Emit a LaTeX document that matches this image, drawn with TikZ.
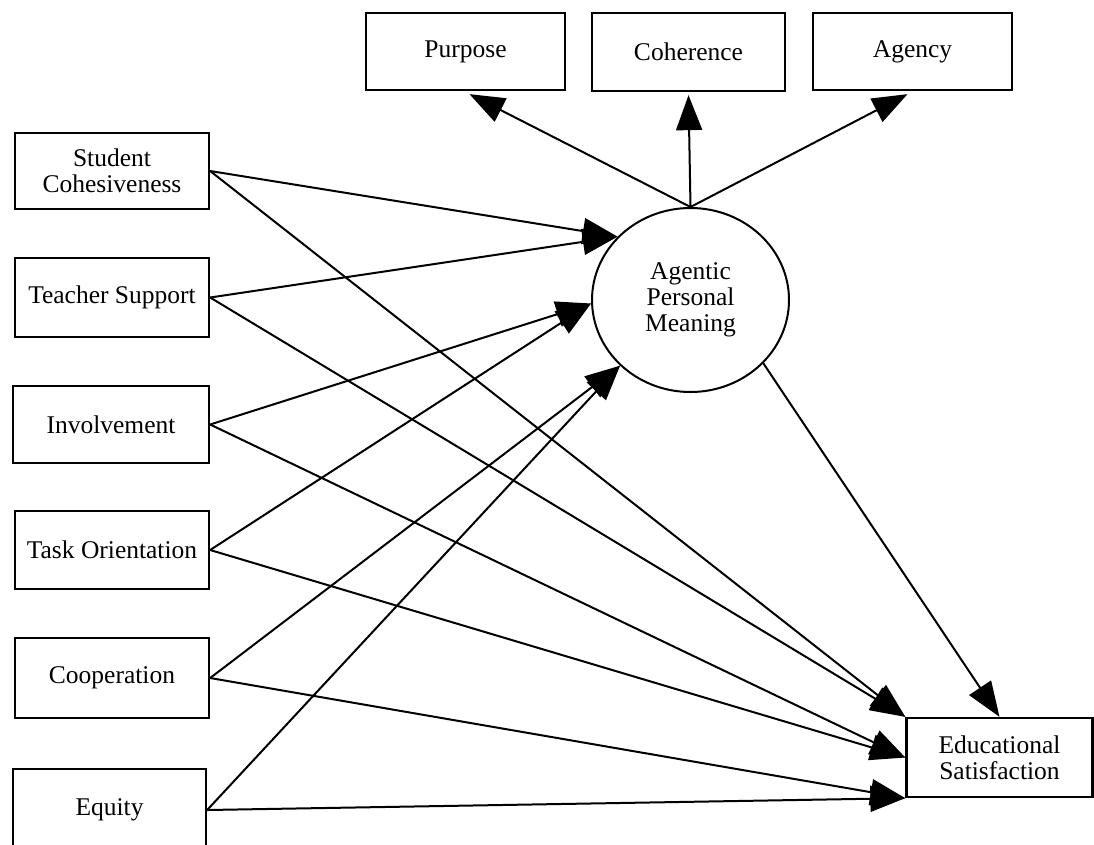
\documentclass[tikz,border=0pt]{standalone}
\usepackage{fontspec}
\setmainfont{Liberation Serif}
\usetikzlibrary{shapes.geometric,arrows.meta}
\begin{document}
\begin{tikzpicture}[x=1pt,y=-1pt,
  box/.style={draw, line width=2.3pt, rectangle, inner sep=0pt, align=center,
    font=\fontsize{25.5}{26}\selectfont},
  lat/.style={draw, line width=2pt, ellipse, inner sep=0pt, minimum width=197pt,
    minimum height=184pt, align=center, font=\fontsize{25.5}{26}\selectfont},
  conn/.style={draw, line width=2pt, -{Triangle[length=35pt,width=26pt]}}
]
\useasboundingbox (0,0) rectangle (1094,844);
% top indicators
\node[box, minimum width=199pt, minimum height=77pt] (pur) at (465.5,51.5) {Purpose};
\node[box, minimum width=193pt, minimum height=78pt] (coh) at (688.5,52) {Coherence};
\node[box, minimum width=199pt, minimum height=77pt] (agy) at (912.5,51.5) {Agency};
% left predictors
\node[box, minimum width=194pt, minimum height=76pt] (sc) at (112,171) {Student\\Cohesiveness};
\node[box, minimum width=194pt, minimum height=79pt] (ts) at (112,297.5) {Teacher Support};
\node[box, minimum width=196pt, minimum height=77pt] (inv) at (111,424.5) {Involvement};
\node[box, minimum width=194pt, minimum height=78pt] (task) at (112,550) {Task Orientation};
\node[box, minimum width=194pt, minimum height=80pt] (coop) at (112,678) {Cooperation};
\node[box, minimum width=193pt, minimum height=82pt] (eq) at (109.5,810) {Equity};
% latent
\node[lat] (apm) at (690.5,300) {Agentic\\Personal\\Meaning};
% outcome
\node[box, minimum width=186pt, minimum height=79pt] (es) at (999.5,757.5) {Educational\\Satisfaction};
% edges to latent
\draw[conn] (sc.east) -- (apm.139);
\draw[conn] (ts.east) -- (apm.139);
\draw[conn] (inv.east) -- (apm.182);
\draw[conn] (task.east) -- (apm.182);
\draw[conn] (coop.east) -- (apm.223);
\draw[conn] (eq.east) -- (apm.223);
% edges to outcome
\draw[conn] (sc.east) -- (es.north west);
\draw[conn] (ts.east) -- (es.north west);
\draw[conn] (inv.east) -- (es.west);
\draw[conn] (task.east) -- (es.west);
\draw[conn] (coop.east) -- (es.south west);
\draw[conn] (eq.east) -- (es.south west);
\draw[conn] (apm.319) -- (es.north);
% latent to indicators
\draw[conn] (apm.north) -- ([xshift=4pt,yshift=-3pt]pur.south);
\draw[conn] (apm.north) -- ([yshift=-3pt]coh.south);
\draw[conn] (apm.north) -- ([xshift=-5pt,yshift=-3pt]agy.south);
\end{tikzpicture}
\end{document}
